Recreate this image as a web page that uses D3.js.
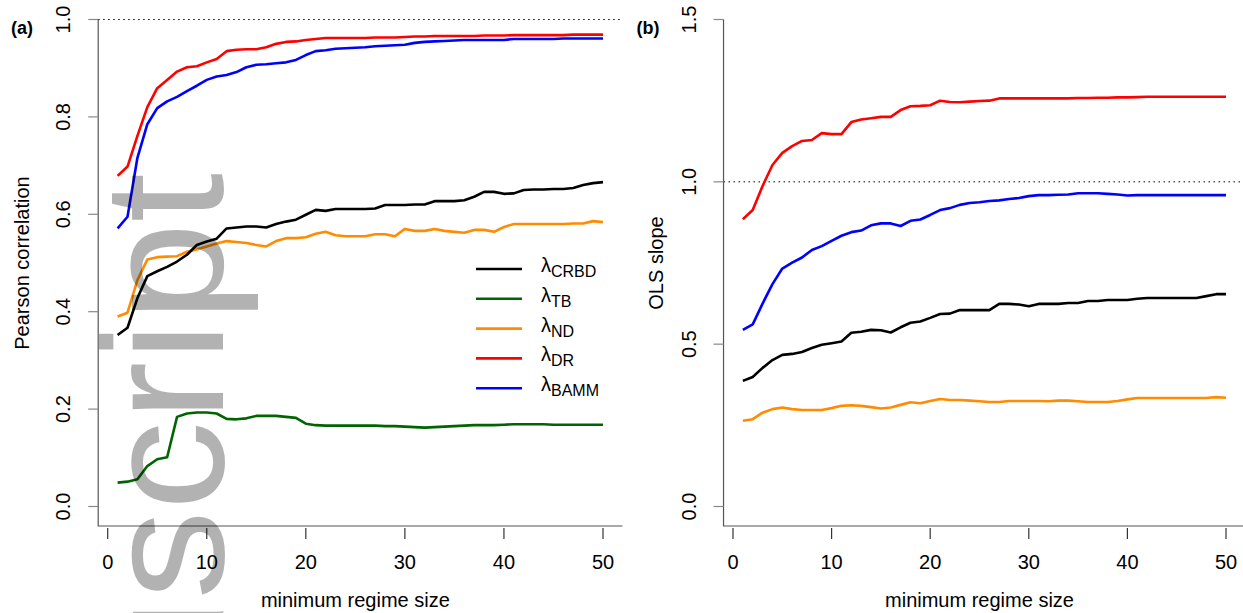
<!DOCTYPE HTML>
<html>
  <head>
    <script src="https://d3js.org/d3.v7.min.js"></script>
    <style>
      body { margin: 0; background: white; }
      svg { font-family: "Liberation Sans", Arial, sans-serif; }
      .tick-label { font-size: 20px; fill: #000; }
      .axis-title { font-size: 20px; fill: #000; }
      .panel-tag { font-size: 18px; font-weight: bold; fill: #000; }
      .series { fill: none; stroke-width: 2.6; stroke-linejoin: round; }
      .watermark { font-size: 170px; fill: #000; fill-opacity: 0.3; }
    </style>
    <title>Regime size - correlation and slope</title>
  </head>
  <body>
    <svg id="chart" width="1243" height="613"></svg>
    <script>
      var regimeSize = [1,2,3,4,5,6,7,8,9,10,11,12,13,14,15,16,17,18,19,20,21,22,23,24,25,
                        26,27,28,29,30,31,32,33,34,35,36,37,38,39,40,41,42,43,44,45,46,47,48,49,50];
      var xTicks = [0, 10, 20, 30, 40, 50];

      // panel (a): Pearson correlation
      var corrCRBD = [0.352,0.367,0.428,0.473,0.483,0.492,0.503,0.517,0.537,0.544,0.550,0.571,0.573,0.575,0.575,0.573,0.580,0.585,0.589,0.599,
                      0.609,0.607,0.611,0.611,0.611,0.611,0.612,0.619,0.619,0.619,0.620,0.620,0.627,0.627,0.627,0.629,0.636,0.646,0.646,0.642,
                      0.643,0.650,0.651,0.651,0.652,0.652,0.654,0.660,0.664,0.666];
      var corrTB = [0.049,0.051,0.056,0.083,0.097,0.101,0.184,0.191,0.193,0.193,0.191,0.180,0.179,0.181,0.186,0.186,0.186,0.184,0.182,0.170,
                    0.167,0.166,0.166,0.166,0.166,0.166,0.166,0.165,0.165,0.164,0.163,0.162,0.163,0.164,0.165,0.166,0.167,0.167,0.167,0.168,
                    0.169,0.169,0.169,0.169,0.168,0.168,0.168,0.168,0.168,0.168];
      var corrND = [0.390,0.398,0.465,0.507,0.512,0.513,0.514,0.523,0.528,0.534,0.540,0.545,0.543,0.541,0.537,0.534,0.545,0.551,0.551,0.553,
                    0.560,0.564,0.557,0.555,0.555,0.555,0.559,0.559,0.555,0.570,0.566,0.566,0.570,0.566,0.564,0.562,0.568,0.568,0.564,0.574,
                    0.580,0.580,0.580,0.580,0.580,0.580,0.581,0.581,0.586,0.584];
      var corrDR = [0.679,0.698,0.761,0.820,0.859,0.876,0.893,0.902,0.904,0.912,0.919,0.935,0.938,0.939,0.939,0.943,0.950,0.954,0.955,0.958,
                    0.960,0.962,0.962,0.962,0.962,0.962,0.963,0.963,0.963,0.964,0.965,0.965,0.966,0.966,0.966,0.966,0.966,0.967,0.967,0.967,
                    0.968,0.968,0.968,0.968,0.968,0.968,0.969,0.969,0.969,0.969];
      var corrBAMM = [0.571,0.595,0.716,0.785,0.818,0.832,0.841,0.853,0.864,0.876,0.883,0.886,0.892,0.902,0.907,0.908,0.910,0.912,0.917,0.927,
                      0.935,0.937,0.940,0.941,0.942,0.943,0.945,0.946,0.947,0.948,0.952,0.954,0.955,0.956,0.957,0.958,0.958,0.958,0.958,0.958,
                      0.960,0.960,0.960,0.960,0.960,0.961,0.961,0.961,0.961,0.961];
      var corrTicks = [0.0, 0.2, 0.4, 0.6, 0.8, 1.0];

      // panel (b): OLS slope
      var slopeCRBD = [0.387,0.399,0.427,0.451,0.467,0.470,0.476,0.488,0.498,0.503,0.508,0.535,0.538,0.544,0.543,0.536,0.552,0.566,0.570,0.581,
                       0.593,0.594,0.605,0.605,0.605,0.605,0.624,0.624,0.622,0.617,0.624,0.624,0.624,0.627,0.627,0.633,0.633,0.636,0.636,0.636,
                       0.640,0.642,0.642,0.642,0.642,0.642,0.642,0.648,0.654,0.654];
      var slopeND = [0.264,0.269,0.289,0.300,0.305,0.300,0.297,0.297,0.297,0.303,0.310,0.312,0.310,0.306,0.302,0.305,0.313,0.321,0.318,0.325,
                     0.331,0.328,0.328,0.326,0.324,0.322,0.322,0.325,0.325,0.325,0.325,0.324,0.326,0.326,0.324,0.322,0.322,0.322,0.325,0.330,
                     0.334,0.334,0.334,0.334,0.334,0.334,0.334,0.334,0.337,0.335];
      var slopeDR = [0.885,0.913,0.987,1.052,1.089,1.110,1.126,1.129,1.150,1.147,1.147,1.184,1.192,1.196,1.200,1.200,1.221,1.233,1.234,1.236,
                     1.250,1.246,1.245,1.247,1.249,1.250,1.257,1.257,1.257,1.257,1.257,1.257,1.257,1.257,1.258,1.258,1.259,1.259,1.260,1.260,
                     1.261,1.262,1.262,1.262,1.262,1.262,1.262,1.262,1.262,1.262];
      var slopeBAMM = [0.544,0.561,0.625,0.685,0.733,0.751,0.767,0.790,0.802,0.818,0.834,0.845,0.850,0.866,0.872,0.872,0.864,0.880,0.884,0.898,
                       0.913,0.919,0.929,0.935,0.937,0.941,0.943,0.947,0.950,0.956,0.959,0.959,0.960,0.961,0.965,0.965,0.965,0.963,0.961,0.958,
                       0.959,0.959,0.959,0.959,0.959,0.959,0.959,0.959,0.959,0.959];
      var slopeTicks = [0.0, 0.5, 1.0, 1.5];

      var legendNames = ["CRBD", "TB", "ND", "DR", "BAMM"];
      var legendColors = ["#000000", "#006400", "#ff8c00", "#ff0000", "#0000ff"];

      var svg = d3.select("#chart");
      var fmt = d3.format(".1f");

      function drawPanel(p) {
        var x = d3.scaleLinear().domain([0, 50]).range(p.xRange);
        var y = d3.scaleLinear().domain(p.yDomain).range([506.5, 19.5]);
        var g = svg.append("g");
        var xLeft = x(-0.96), xRight = x(51.96);
        var yPad = (p.yDomain[1] - p.yDomain[0]) * 0.04;
        var yBottom = y(p.yDomain[0] - yPad);

        // reference line at 1
        g.append("line").attr("x1", xLeft).attr("x2", xRight)
          .attr("y1", y(1)).attr("y2", y(1))
          .attr("stroke", "#000").attr("stroke-width", 1).attr("stroke-dasharray", "1.5,3.5");

        // L-shaped box
        g.append("path")
          .attr("d", "M" + xLeft + "," + y(p.yDomain[1]) + "V" + yBottom + "H" + xRight)
          .attr("fill", "none").attr("stroke", "#555").attr("stroke-width", 1.2);

        // y axis ticks and labels
        p.yTicks.forEach(function(t) {
          g.append("line").attr("x1", xLeft - 10).attr("x2", xLeft)
            .attr("y1", y(t)).attr("y2", y(t)).attr("stroke", "#888").attr("stroke-width", 1.2);
          g.append("text").attr("class", "tick-label")
            .attr("transform", "translate(" + (xLeft - 28) + "," + y(t) + ") rotate(-90)")
            .attr("text-anchor", "middle").text(fmt(t));
        });

        // x axis ticks and labels
        xTicks.forEach(function(t) {
          g.append("line").attr("x1", x(t)).attr("x2", x(t))
            .attr("y1", yBottom + 2).attr("y2", yBottom + 13).attr("stroke", "#333").attr("stroke-width", 1.2);
          g.append("text").attr("class", "tick-label")
            .attr("x", x(t)).attr("y", yBottom + 43).attr("text-anchor", "middle").text(t);
        });

        g.append("text").attr("class", "axis-title")
          .attr("x", x(25)).attr("y", 607).attr("text-anchor", "middle").text("minimum regime size");
        g.append("text").attr("class", "axis-title")
          .attr("transform", "translate(" + (xLeft - p.titleOffset) + "," + 263 + ") rotate(-90)")
          .attr("text-anchor", "middle").text(p.yTitle);
        g.append("text").attr("class", "panel-tag")
          .attr("x", p.tagX).attr("y", 34).attr("text-anchor", "middle").text(p.tag);

        var line = d3.line()
          .x(function(d, i) { return x(regimeSize[i]); })
          .y(function(d) { return y(d); });

        p.series.forEach(function(s) {
          g.append("path").attr("class", "series")
            .attr("stroke", s.color).attr("d", line(s.values));
        });
        return { x: x, y: y };
      }

      drawPanel({
        xRange: [107.7, 603], yDomain: [0, 1], yTicks: corrTicks,
        yTitle: "Pearson correlation", titleOffset: 69, tag: "(a)", tagX: 22,
        series: [
          { color: legendColors[1], values: corrTB },
          { color: legendColors[2], values: corrND },
          { color: legendColors[0], values: corrCRBD },
          { color: legendColors[4], values: corrBAMM },
          { color: legendColors[3], values: corrDR }
        ]
      });

      drawPanel({
        xRange: [733, 1226], yDomain: [0, 1.5], yTicks: slopeTicks,
        yTitle: "OLS slope", titleOffset: 61, tag: "(b)", tagX: 648,
        series: [
          { color: legendColors[2], values: slopeND },
          { color: legendColors[0], values: slopeCRBD },
          { color: legendColors[4], values: slopeBAMM },
          { color: legendColors[3], values: slopeDR }
        ]
      });

      // legend (panel a)
      var legend = svg.append("g");
      legendNames.forEach(function(n, i) {
        var ly = 269 + i * 29.8;
        legend.append("line").attr("x1", 476).attr("x2", 522).attr("y1", ly).attr("y2", ly)
          .attr("stroke", legendColors[i]).attr("stroke-width", 2.6);
        var t = legend.append("text").attr("x", 541).attr("y", ly + 3).style("font-size", "20px");
        t.append("tspan").text("\u03bb");
        t.append("tspan").attr("dy", 5).style("font-size", "16px").text(n);
      });

      // watermark
      svg.append("text").attr("class", "watermark")
        .attr("transform", "translate(223,173) rotate(-90) scale(1.05,1)")
        .attr("text-anchor", "end").text("Manuscript");
    </script>
  </body>
</html>
